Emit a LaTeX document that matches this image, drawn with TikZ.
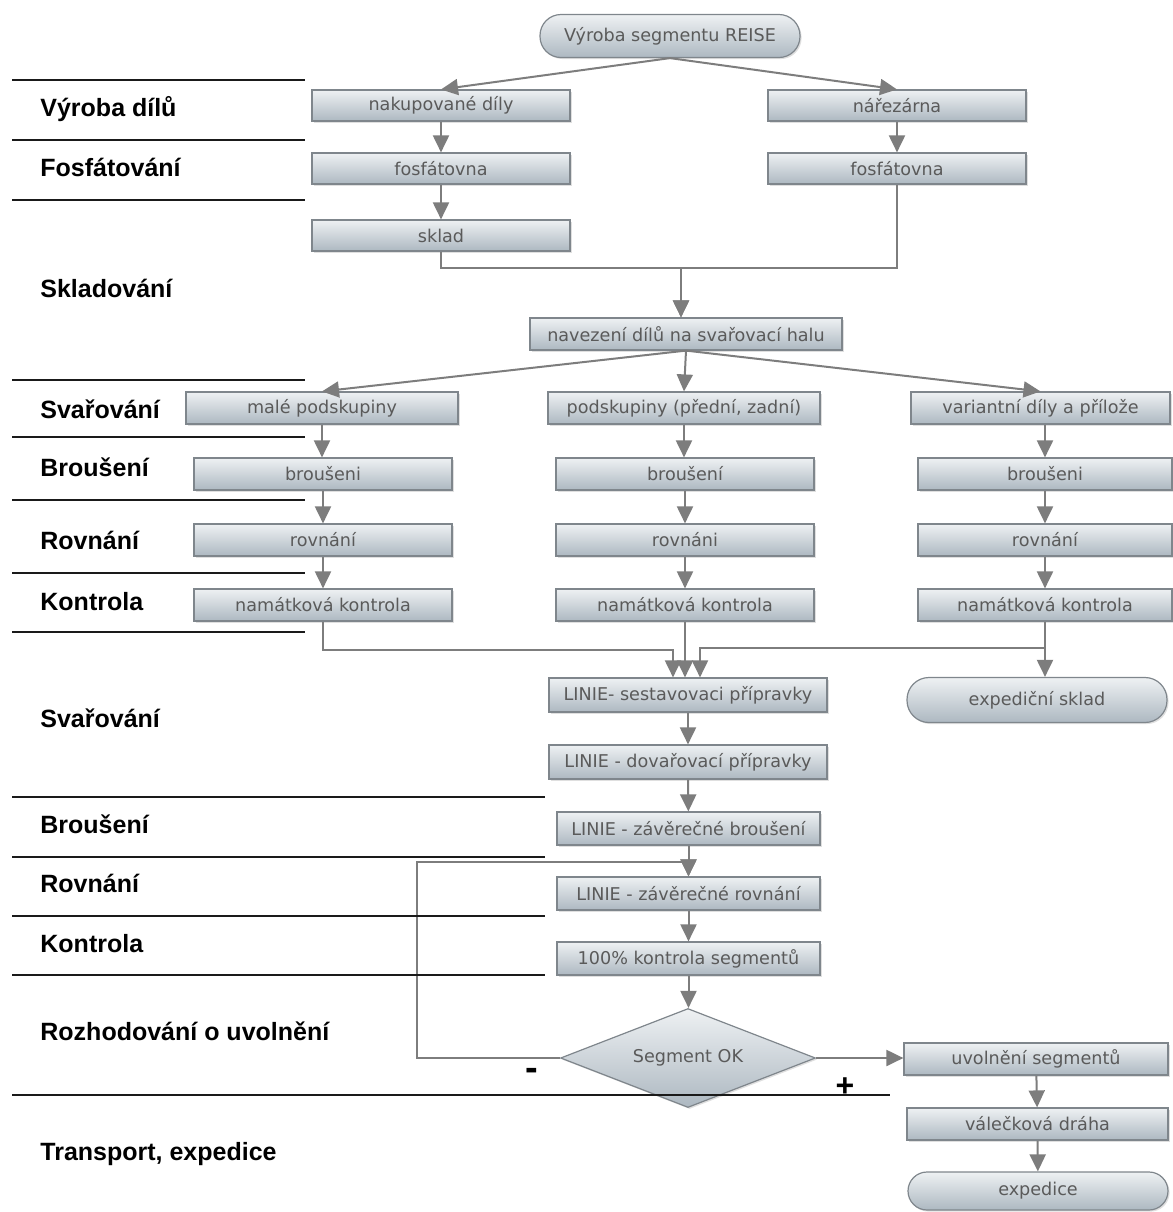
\documentclass[tikz,border=0pt]{standalone}
\usepackage{fontspec}
\usetikzlibrary{arrows.meta,shapes.geometric,shadows}
\newfontfamily\boxfont{DejaVu Sans}
\newfontfamily\labfont{Liberation Sans}
\definecolor{boxtop}{HTML}{EEF1F3}
\definecolor{boxbot}{HTML}{ADB8C1}
\definecolor{boxline}{HTML}{7F868C}
\definecolor{boxtext}{HTML}{5A5A5A}
\definecolor{conncol}{HTML}{7D7D7D}
\definecolor{sepcol}{HTML}{1A1A1A}
\begin{document}
\begin{tikzpicture}[x=0.5pt,y=-0.5pt,
  stepbox/.style={rectangle, draw=boxline, line width=0.6pt,
    top color=boxtop, bottom color=boxbot, text=boxtext,
    font=\boxfont\fontsize{8.8pt}{10pt}\selectfont,
    inner sep=0pt, minimum height=16pt,
    drop shadow={shadow xshift=0.8pt, shadow yshift=-0.8pt, opacity=0.25}},
  pill/.style={stepbox, rounded corners=10.5pt},
  decision/.style={diamond, draw=boxline, line width=0.6pt,
    top color=boxtop, bottom color=boxbot, text=boxtext,
    font=\boxfont\fontsize{8.8pt}{10pt}\selectfont,
    inner sep=0pt, aspect=2.5, minimum width=127.5pt, minimum height=49.5pt,
    drop shadow={shadow xshift=0.8pt, shadow yshift=-0.8pt, opacity=0.25}},
  conn/.style={draw=conncol, line width=1pt,
    -{Triangle[width=8pt,length=8.5pt]}, fill=none},
  lab/.style={anchor=base west, inner sep=0pt,
    font=\labfont\bfseries\fontsize{12.5pt}{14pt}\selectfont},
  sign/.style={inner sep=0pt, font=\labfont\bfseries\fontsize{16pt}{18pt}\selectfont},
  sepline/.style={draw=sepcol, line width=1pt}
]
\useasboundingbox (0,0) rectangle (1173,1212);

% ---------- nodes ----------
\node[pill, minimum width=130pt, minimum height=21.5pt] (start) at (670,36) {Výroba segmentu REISE};

\node[stepbox, minimum width=129pt, minimum height=15.5pt] (nak) at (441,105.5) {nakupované díly};
\node[stepbox, minimum width=129pt, minimum height=15.5pt] (nar) at (897,105.5) {nářezárna};
\node[stepbox, minimum width=129pt, minimum height=15.5pt] (fosL) at (441,168.5) {fosfátovna};
\node[stepbox, minimum width=129pt, minimum height=15.5pt] (fosR) at (897,168.5) {fosfátovna};
\node[stepbox, minimum width=129pt, minimum height=15.5pt] (sklad) at (441,235.5) {sklad};

\node[stepbox, minimum width=156pt] (nav) at (686,334) {navezení dílů na svařovací halu};

\node[stepbox, minimum width=136pt] (male) at (322,408) {malé podskupiny};
\node[stepbox, minimum width=136pt] (pod) at (684,408) {podskupiny (přední, zadní)};
\node[stepbox, minimum width=129.5pt] (var) at (1040.5,408) {variantní díly a přílože};

\node[stepbox, minimum width=129pt] (bL) at (323,474) {broušeni};
\node[stepbox, minimum width=129pt] (bM) at (685,474) {broušení};
\node[stepbox, minimum width=127pt] (bR) at (1045,474) {broušeni};

\node[stepbox, minimum width=129pt] (rL) at (323,540) {rovnání};
\node[stepbox, minimum width=129pt] (rM) at (685,540) {rovnáni};
\node[stepbox, minimum width=127pt] (rR) at (1045,540) {rovnání};

\node[stepbox, minimum width=129pt] (kL) at (323,605) {namátková kontrola};
\node[stepbox, minimum width=129pt] (kM) at (685,605) {namátková kontrola};
\node[stepbox, minimum width=127pt] (kR) at (1045,605) {namátková kontrola};

\node[stepbox, minimum width=139pt, minimum height=17pt] (lin1) at (688,695) {LINIE- sestavovaci přípravky};
\node[pill, minimum width=130pt, minimum height=22.5pt, rounded corners=11pt] (exsk) at (1037,700) {expediční sklad};
\node[stepbox, minimum width=139pt, minimum height=17pt] (lin2) at (688,762) {LINIE - dovařovací přípravky};
\node[stepbox, minimum width=131.5pt, minimum height=16.5pt] (lin3) at (688.5,828.5) {LINIE - závěrečné broušení};
\node[stepbox, minimum width=131.5pt, minimum height=16.5pt] (lin4) at (688.5,893.5) {LINIE - závěrečné rovnání};
\node[stepbox, minimum width=131.5pt, minimum height=16.5pt] (lin5) at (688.5,958.5) {100\% kontrola segmentů};

\node[decision] (dec) at (688,1058) {Segment OK};

\node[stepbox, minimum width=132pt] (uvol) at (1036,1059) {uvolnění segmentů};
\node[stepbox, minimum width=130.5pt] (val) at (1037.5,1124) {válečková dráha};
\node[pill, minimum width=130pt, minimum height=19pt, rounded corners=9.5pt] (exped) at (1038,1191) {expedice};

% ---------- connectors ----------
\draw[conn] (start.south) -- (nak.north);
\draw[conn] (start.south) -- (nar.north);
\draw[conn] (nak) -- (fosL);
\draw[conn] (fosL) -- (sklad);
\draw[conn] (nar) -- (fosR);

\coordinate (jn) at (681,268);
\draw[conn] (sklad.south) |- (jn) -- (jn |- nav.north);
\draw[conn] (fosR.south) |- (jn) -- (jn |- nav.north);

\draw[conn] (nav.south) -- (male.north);
\draw[conn] (nav.south) -- (pod.north);
\draw[conn] (nav.south) -- (var.north);

\draw[conn] (male.south) -- (male.south |- bL.north);
\draw[conn] (bL) -- (rL);
\draw[conn] (rL) -- (kL);
\draw[conn] (pod.south) -- (pod.south |- bM.north);
\draw[conn] (bM) -- (rM);
\draw[conn] (rM) -- (kM);
\draw[conn] (var.south -| bR.north) -- (bR.north);
\draw[conn] (bR) -- (rR);
\draw[conn] (rR) -- (kR);

\coordinate (jl) at (673,650);
\coordinate (jr) at (700,648);
\draw[conn] (kL.south) |- (jl) -- (jl |- lin1.north);
\draw[conn] (kM.south) -- (kM.south |- lin1.north);
\draw[conn] (kR.south) |- (jr) -- (jr |- lin1.north);
\draw[conn] (kR.south) -- (kR.south |- exsk.north);

\draw[conn] (lin1) -- (lin2);
\draw[conn] (lin2) -- (lin3);
\draw[conn] (lin3) -- (lin4);
\draw[conn] (lin4) -- (lin5);
\draw[conn] (lin5.south) -- (lin5.south |- dec.north);

\coordinate (fb) at (417,862);
\draw[conn] (dec.west) -| (fb) -- (fb -| lin4.north) -- (lin4.north);
\draw[conn] (dec.east) -- (dec.east -| uvol.west);

\draw[conn] (uvol) -- (val);
\draw[conn] (val) -- (exped);

% ---------- separators ----------
\foreach \yy in {80,140,200,380,437,500,573,632}
  \draw[sepline] (12,\yy) -- (305,\yy);
\foreach \yy in {797,857,916,975}
  \draw[sepline] (12,\yy) -- (545,\yy);
\draw[sepline] (12,1095) -- (890,1095);

% ---------- lane labels ----------
\node[lab] (l1) at (40,116) {Výroba dílů};
\node[lab] (l2) at (40,176) {Fosfátování};
\node[lab] (l3) at (40,297) {Skladování};
\node[lab] (l4) at (40,418) {Svařování};
\node[lab] (l5) at (40,476) {Broušení};
\node[lab] (l6) at (40,549) {Rovnání};
\node[lab] (l7) at (40,610) {Kontrola};
\node[lab] (l8) at (40,727) {Svařování};
\node[lab] (l9) at (40,833) {Broušení};
\node[lab] (l10) at (40,892) {Rovnání};
\node[lab] (l11) at (40,952) {Kontrola};
\node[lab] (l12) at (40,1040) {Rozhodování o uvolnění};
\node[lab] (l13) at (40,1160) {Transport, expedice};

\node[sign, font=\labfont\bfseries\fontsize{19pt}{20pt}\selectfont] (minus) at (532,1074) {-};
\node[sign] (plus) at (845,1087) {+};
\end{tikzpicture}
\end{document}
